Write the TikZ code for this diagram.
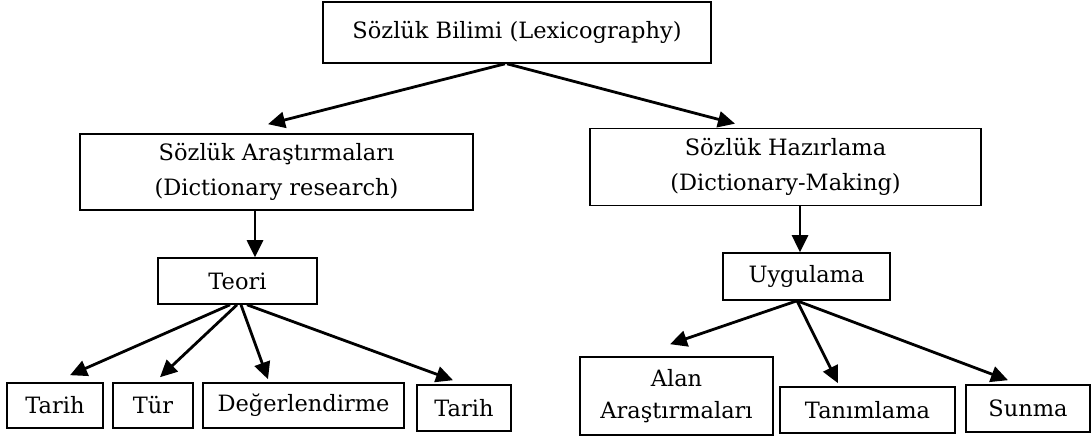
\documentclass[tikz,border=0pt]{standalone}
\usepackage{fontspec}
\setmainfont{DejaVu Serif}
\usetikzlibrary{arrows.meta}
\begin{document}
\begin{tikzpicture}[x=1pt,y=-1pt,
  box/.style={draw,line width=1.6pt,inner sep=0pt,align=center,font=\fontsize{22.5}{35}\selectfont},
  arr/.style={line width=2.8pt,-{Triangle[length=17pt,width=16pt]}}]
\useasboundingbox (0,0) rectangle (1092,439);
\node[box,minimum width=388pt,minimum height=61pt] (top) at (517,32.5) {Sözlük Bilimi (Lexicography)};
\node[box,minimum width=393pt,minimum height=76pt] (res) at (276.5,172) {Sözlük Araştırmaları\\(Dictionary research)};
\node[box,minimum width=391pt,minimum height=77pt] (mak) at (785.5,167) {Sözlük Hazırlama\\(Dictionary-Making)};
\node[box,minimum width=159pt,minimum height=46pt] (teori) at (237.5,281) {Teori};
\node[box,minimum width=167pt,minimum height=47pt] (uyg) at (806.5,276.5) {Uygulama};
\node[box,minimum width=96pt,minimum height=45pt] (tarih1) at (55,405.5) {Tarih};
\node[box,minimum width=80pt,minimum height=45pt] (tur) at (153,405.5) {Tür};
\node[box,minimum width=201pt,minimum height=45pt] (deg) at (303.5,405.5) {Değerlendirme};
\node[box,minimum width=94pt,minimum height=46pt] (tarih2) at (464,408) {Tarih};
\node[box,minimum width=193pt,minimum height=78pt,font=\fontsize{22.5}{32}\selectfont] (alan) at (676.5,396) {Alan\\Araştırmaları};
\node[box,minimum width=175pt,minimum height=46pt] (tan) at (867.5,410) {Tanımlama};
\node[box,minimum width=124pt,minimum height=47pt] (sun) at (1028,408.5) {Sunma};
\draw[arr] ([xshift=-12pt]top.south) -- ([xshift=-8.5pt,yshift=9pt]res.north);
\draw[arr] ([xshift=-10pt]top.south) -- ([xshift=-50.5pt,yshift=4pt]mak.north);
\draw[arr] ([xshift=-21.5pt]res.south) -- ([xshift=17.5pt]teori.north);
\draw[arr] ([xshift=14.5pt]mak.south) -- ([xshift=-6.5pt]uyg.north);
\draw[arr] ([xshift=-7.5pt]teori.south) -- ([xshift=15pt,yshift=7pt]tarih1.north);
\draw[arr] ([xshift=-0.5pt]teori.south) -- ([xshift=7pt,yshift=5pt]tur.north);
\draw[arr] ([xshift=3.5pt]teori.south) -- ([xshift=-35.5pt,yshift=3pt]deg.north);
\draw[arr] ([xshift=9.5pt]teori.south) -- ([xshift=-11pt,yshift=4pt]tarih2.north);
\draw[arr] ([xshift=-9.5pt]uyg.south) -- ([xshift=-6.5pt,yshift=12pt]alan.north);
\draw[arr] ([xshift=-9.5pt]uyg.south) -- ([xshift=-29.5pt,yshift=3pt]tan.north);
\draw[arr] ([xshift=-9.5pt]uyg.south) -- ([xshift=-20pt,yshift=4pt]sun.north);
\end{tikzpicture}
\end{document}
